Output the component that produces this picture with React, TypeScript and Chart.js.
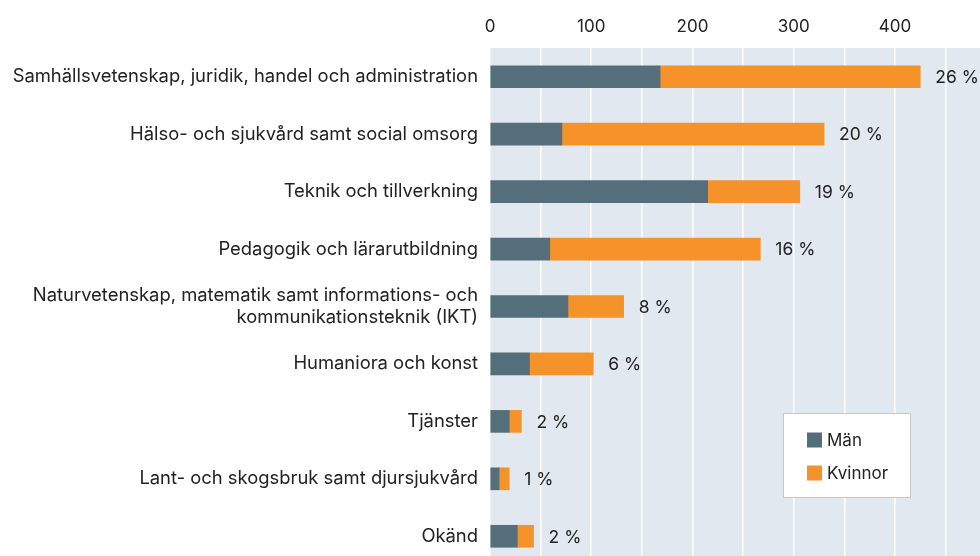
import React, { useEffect, useRef } from "react";
import { Chart, registerables } from "chart.js";

Chart.register(...registerables);

const categories: (string | string[])[] = [
  "Samhällsvetenskap, juridik, handel och administration",
  "Hälso- och sjukvård samt social omsorg",
  "Teknik och tillverkning",
  "Pedagogik och lärarutbildning",
  ["Naturvetenskap, matematik samt informations- och", "kommunikationsteknik (IKT)"],
  "Humaniora och konst",
  "Tjänster",
  "Lant- och skogsbruk samt djursjukvård",
  "Okänd",
];
const man = [168, 71, 215, 59, 77, 39, 19, 9, 27];
const kvinnor = [257, 259, 91, 208, 55, 63, 12, 10, 16];
const shares = ["26 %", "20 %", "19 %", "16 %", "8 %", "6 %", "2 %", "1 %", "2 %"];
const seriesNames = ["Män", "Kvinnor"];
const xMax = 484;

const FONT = "Inter, 'Noto Sans', sans-serif";
const TEXT = "#222222";

const bgPlugin = {
  id: "plotBg",
  beforeDraw(chart: any) {
    const { ctx, chartArea: a } = chart;
    ctx.save();
    ctx.fillStyle = "#e1e8ef";
    ctx.fillRect(a.left, a.top, a.right - a.left, a.bottom - a.top);
    ctx.restore();
  },
};

const labelPlugin = {
  id: "shareLabels",
  afterDatasetsDraw(chart: any) {
    const { ctx } = chart;
    const last = chart.getDatasetMeta(chart.data.datasets.length - 1);
    ctx.save();
    ctx.font = `17.5px ${FONT}`;
    ctx.fillStyle = TEXT;
    ctx.textBaseline = "middle";
    ctx.textAlign = "left";
    last.data.forEach((el: any, i: number) => {
      ctx.fillText(shares[i], el.x + 15, el.y + 1);
    });
    ctx.restore();
  },
};

const legendPlugin = {
  id: "boxLegend",
  afterDraw(chart: any) {
    const { ctx } = chart;
    const x = 783, y = 413, w = 128, h = 85;
    ctx.save();
    ctx.fillStyle = "#ffffff";
    ctx.fillRect(x, y, w, h);
    ctx.strokeStyle = "#c8c8c8";
    ctx.lineWidth = 1;
    ctx.strokeRect(x + 0.5, y + 0.5, w - 1, h - 1);
    ctx.font = `17px ${FONT}`;
    ctx.textBaseline = "middle";
    chart.data.datasets.forEach((ds: any, i: number) => {
      const cy = y + 27 + i * 33;
      ctx.fillStyle = ds.backgroundColor;
      ctx.fillRect(x + 24, cy - 7.5, 15, 15);
      ctx.fillStyle = TEXT;
      ctx.fillText(ds.label, x + 44, cy + 1);
    });
    ctx.restore();
  },
};

export default function App() {
  const ref = useRef<HTMLCanvasElement>(null);
  useEffect(() => {
    if (!ref.current) return;
    const chart = new Chart(ref.current, {
      type: "bar",
      data: {
        labels: categories,
        datasets: [
          { label: seriesNames[0], data: man, backgroundColor: "#546e7b", barThickness: 22 },
          { label: seriesNames[1], data: kvinnor, backgroundColor: "#f5922a", barThickness: 22 },
        ],
      },
      options: {
        indexAxis: "y",
        animation: false,
        responsive: false,
        maintainAspectRatio: false,
        layout: { padding: 0 },
        plugins: { legend: { display: false }, tooltip: { enabled: false } },
        scales: {
          x: {
            position: "top",
            stacked: true,
            min: 0,
            max: xMax,
            border: { display: false },
            grid: { color: "#ffffff", lineWidth: 1.5, drawTicks: false },
            afterFit(s: any) {
              s.height = 48;
              s.paddingLeft = 0;
              s.paddingRight = 0;
            },
            afterBuildTicks(s: any) {
              const t = [];
              for (let v = 0; v <= xMax; v += 50) t.push({ value: v });
              s.ticks = t;
            },
            ticks: {
              padding: 11,
              color: TEXT,
              font: { family: FONT, size: 17 },
              callback: (v: any) => (Number(v) % 100 === 0 ? String(v) : ""),
            },
          },
          y: {
            stacked: true,
            border: { display: false },
            grid: { display: false, drawTicks: false },
            afterFit(s: any) {
              s.width = 490;
              s.paddingTop = 0;
              s.paddingBottom = 0;
            },
            ticks: {
              padding: 12,
              color: TEXT,
              font: { family: FONT, size: 18.4, lineHeight: 1.2 },
            },
          },
        },
      },
      plugins: [bgPlugin, labelPlugin, legendPlugin],
    });
    return () => chart.destroy();
  }, []);
  return (
    <div style={{ position: "fixed", left: 0, top: 0, width: 980, height: 556, overflow: "hidden", background: "#fff" }}>
      <canvas ref={ref} width={980} height={565} style={{ display: "block", width: 980, height: 565 }} />
    </div>
  );
}
